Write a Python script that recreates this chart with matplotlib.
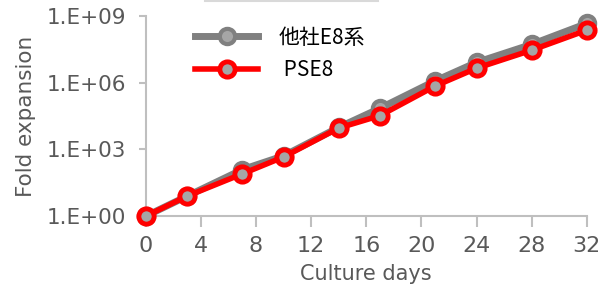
import numpy as np
import matplotlib.pyplot as plt
from matplotlib.lines import Line2D

plt.rcParams['font.family'] = ['DejaVu Sans', 'Noto Sans CJK JP']

days = [0, 3, 7, 10, 14, 17, 21, 24, 28, 32]
# log10 of fold expansion
other_log = [0.0, 0.9, 2.09, 2.71, 3.99, 4.85, 6.08, 6.91, 7.72, 8.66]
pse8_log = [0.0, 0.9, 1.9, 2.66, 3.96, 4.52, 5.85, 6.65, 7.46, 8.36]
other_vals = [10 ** v for v in other_log]
pse8_vals = [10 ** v for v in pse8_log]

xticks = [0, 4, 8, 12, 16, 20, 24, 28, 32]
yticks = [1, 1e3, 1e6, 1e9]
ytick_labels = ['1.E+00', '1.E+03', '1.E+06', '1.E+09']

fig = plt.figure(figsize=(6.1, 2.84), dpi=100)
ax = fig.add_axes([0.239, 0.239, 0.723, 0.705])

ax.plot(days, other_vals, color='#808080', lw=5, marker='o', ms=11,
        mfc='#a6a6a6', mec='#808080', mew=3, label='他社E8系', zorder=2,
        clip_on=False)
ax.plot(days, pse8_vals, color='#ff0000', lw=4, marker='o', ms=11,
        mfc='#a6a6a6', mec='#ff0000', mew=3.5, label=' PSE8', zorder=3,
        clip_on=False)

ax.set_yscale('log')
ax.set_xlim(0, 32)
ax.set_ylim(1, 1e9)
ax.set_yticks(yticks)
ax.set_yticklabels(ytick_labels)
ax.minorticks_off()
ax.set_xticks(xticks)

for s in ['top', 'right']:
    ax.spines[s].set_visible(False)
for s in ['left', 'bottom']:
    ax.spines[s].set_color('#bfbfbf')
    ax.spines[s].set_linewidth(1.5)
    ax.spines[s].set_zorder(0)

ax.tick_params(axis='x', colors='#bfbfbf', labelcolor='#595959', labelsize=16,
               length=8, width=1.5, direction='out', pad=6)
ax.tick_params(axis='y', colors='#bfbfbf', labelcolor='#595959', labelsize=15.5,
               length=5, width=1.5, direction='out', pad=9)
ax.set_xlabel('Culture days', color='#595959', fontsize=15, labelpad=6)
ax.set_ylabel('Fold expansion', color='#595959', fontsize=15.5, labelpad=8)

leg = ax.legend(loc='upper left', bbox_to_anchor=(0.07, 1.04), frameon=False,
                prop={'family': ['Noto Sans CJK JP', 'DejaVu Sans'], 'size': 15},
                handlelength=3.0, handletextpad=1.0, labelspacing=0.5)

fig.add_artist(Line2D([205 / 610, 378 / 610], [0.998, 0.998], color='#d9d9d9', lw=1.5))

fig.savefig('out.png', dpi=100)
